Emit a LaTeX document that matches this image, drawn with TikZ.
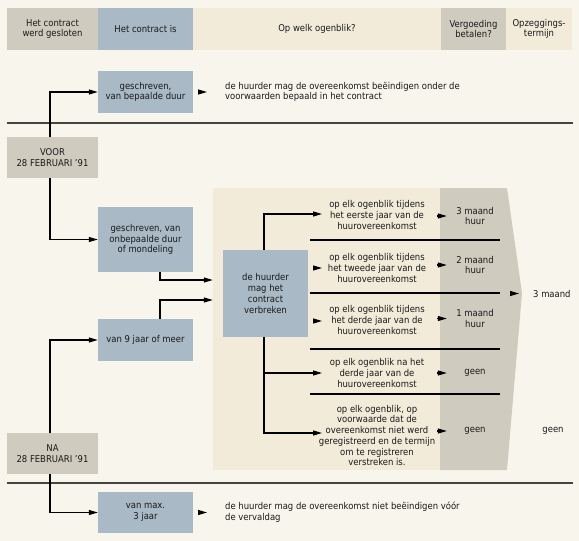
\documentclass[tikz,border=0pt]{standalone}
\usepackage{fontspec}
\setmainfont{DejaVu Sans Condensed}
\usetikzlibrary{arrows.meta}
\definecolor{bgc}{HTML}{F8F5EC}
\definecolor{creamc}{HTML}{F3EBDA}
\definecolor{grayc}{HTML}{CFCBBE}
\definecolor{bluec}{HTML}{A9B9C6}
\definecolor{txtc}{HTML}{1A1A1A}
\definecolor{divc}{HTML}{45443E}
\begin{document}
\begin{tikzpicture}[x=1pt,y=-1pt,
  font=\fontsize{9.4}{10.7}\selectfont,
  box/.style={rectangle, inner sep=1pt, align=center, text=txtc},
  gbox/.style={box, fill=grayc},
  bbox/.style={box, fill=bluec},
  cbox/.style={box, fill=creamc},
  lbl/.style={inner sep=0pt, align=center, text=txtc},
  arr/.style={-{Triangle[length=9pt,width=5pt]}, line width=1.1pt, draw=black},
  conn/.style={line width=1.1pt, draw=black},
  divider/.style={line width=1.8pt, draw=divc},
  sep/.style={line width=1.2pt, draw=black}]
\useasboundingbox (0,0) rectangle (579,541);
\fill[bgc] (0,0) rectangle (579,541);
% header
\node[gbox, minimum width=91pt, minimum height=42pt] (h1) at (52.5,29) {Het contract\\werd gesloten};
\node[bbox, minimum width=95pt, minimum height=42pt] (h2) at (145.5,29) {Het contract is};
\node[cbox, minimum width=248pt, minimum height=42pt] (h3) at (317,29) {Op welk ogenblik?};
\node[gbox, minimum width=65pt, minimum height=42pt] (h4) at (473.5,29) {Vergoeding\\betalen?};
\node[cbox, minimum width=66pt, minimum height=42pt] (h5) at (539,29) {Opzeggings-\\termijn};
% background areas on the right
\fill[creamc] (213,188) rectangle (441,470);
\fill[grayc] (440,188) -- (507,188) -- (522,293) -- (507,470) -- (440,470) -- cycle;
% dividers
\draw[divider] (7,123) -- (573,123);
\draw[divider] (7,483) -- (573,483);
% left boxes
\node[gbox, minimum width=91pt, minimum height=41pt] (voor) at (52.5,157.5) {VOOR\\28 FEBRUARI '91};
\node[gbox, minimum width=91pt, minimum height=41pt] (na) at (52.5,453.5) {NA\\28 FEBRUARI '91};
\node[bbox, minimum width=95pt, minimum height=42pt] (b1) at (145.5,92) {geschreven,\\van bepaalde duur};
\node[bbox, minimum width=95pt, minimum height=65pt] (b2) at (145.5,239.5) {geschreven, van\\onbepaalde duur\\of mondeling};
\node[bbox, minimum width=95pt, minimum height=42pt] (b3) at (145.5,340) {van 9 jaar of meer};
\node[bbox, minimum width=95pt, minimum height=41pt] (b4) at (145.5,512.5) {van max.\\3 jaar};
\node[bbox, minimum width=85pt, minimum height=87pt] (c) at (265.5,293.5) {de huurder\\mag het\\contract\\verbreken};
% texts
\node[lbl, align=left, anchor=west] (t1) at (225,92) {de huurder mag de overeenkomst beëindigen onder de\\voorwaarden bepaald in het contract};
\node[lbl, align=left, anchor=west] (t2) at (225,512.5) {de huurder mag de overeenkomst niet beëindigen vóór\\de vervaldag};
% row texts
\node[lbl] (r1) at (377,215) {op elk ogenblik tijdens\\het eerste jaar van de\\huurovereenkomst};
\node[lbl] (r2) at (377,268) {op elk ogenblik tijdens\\het tweede jaar van de\\huurovereenkomst};
\node[lbl] (r3) at (377,320) {op elk ogenblik tijdens\\het derde jaar van de\\huurovereenkomst};
\node[lbl] (r4) at (377,373) {op elk ogenblik na het\\derde jaar van de\\huurovereenkomst};
\node[lbl] (r5) at (377,435.5) {op elk ogenblik, op\\voorwaarde dat de\\overeenkomst niet werd\\geregistreerd en de termijn\\om te registreren\\verstreken is.};
% compensation
\node[lbl, minimum width=56pt] (v1) at (475,216) {3 maand\\huur};
\node[lbl, minimum width=56pt] (v2) at (475,265) {2 maand\\huur};
\node[lbl, minimum width=56pt] (v3) at (475,318.5) {1 maand\\huur};
\node[lbl, minimum width=56pt] (v4) at (475,373) {geen};
\node[lbl, minimum width=56pt] (v5) at (475,431) {geen};
% notice period
\node[lbl, anchor=west] (m3) at (533,293.5) {3 maand};
\node[lbl] (g2) at (553,431) {geen};
% separators
\draw[sep] (310,240) -- (500,240);
\draw[sep] (310,293) -- (500,293);
\draw[sep] (310,349) -- (500,349);
\draw[sep] (310,394) -- (500,394);
% left connectors
\draw[arr] ([xshift=-2.5pt]voor.north) |- (b1.west);
\draw[arr] ([xshift=-2.5pt]voor.south) |- (b2.west);
\draw[arr] ([xshift=-2.5pt]na.north) |- (b3.west);
\draw[arr] ([xshift=-2.5pt]na.south) |- (b4.west);
\draw[arr, shorten <=5pt, shorten >=18pt] (b1.east) -- (t1.west);
\draw[arr, shorten <=5pt, shorten >=18pt] (b4.east |- t2.west) -- (t2.west);
\draw[arr, shorten >=10pt] ([xshift=14.5pt]b2.south) |- ([yshift=13.5pt]c.west);
\draw[arr, shorten >=10pt] ([xshift=14.5pt]b3.north) |- ([yshift=-6.5pt]c.west);
% right connectors
\coordinate (a1) at (322,214);
\coordinate (a2) at (322,268);
\coordinate (a3) at (322,321);
\coordinate (a4) at (322,373);
\coordinate (a5) at (322,433);
\coordinate (trt) at ([xshift=-1.5pt]c.north);
\coordinate (trb) at ([xshift=-1.5pt]c.south);
\draw[arr] (trt) |- (a1);
\draw[arr] (trb) |- (a5);
\draw[arr] (trb |- a4) -- (a4);
\draw[arr] ([xshift=-9pt]a2) -- (a2);
\draw[arr] ([xshift=-9pt]a3) -- (a3);
\foreach \v in {v1,v2,v3,v4,v5}{
  \draw[arr] ([xshift=-10pt]\v.west) -- (\v.west);
}
\draw[arr] ([xshift=-23pt]m3.west) -- ([xshift=-14pt]m3.west);
\end{tikzpicture}
\end{document}
